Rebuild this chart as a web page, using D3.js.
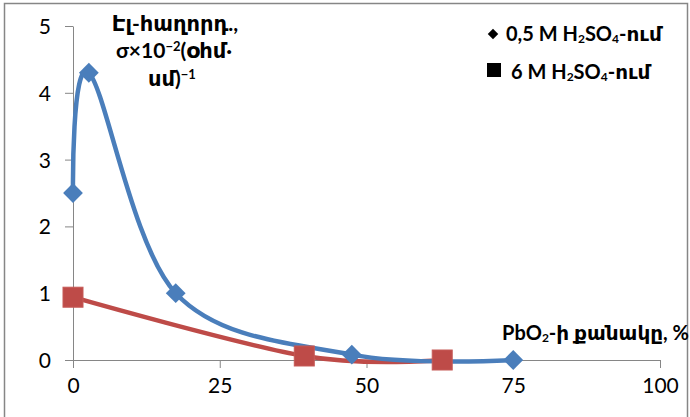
<!DOCTYPE html>
<html>
<head>
<meta charset="utf-8">
<script src="https://cdn.jsdelivr.net/npm/d3@7"></script>
<style>
  body { margin: 0; background: #fff; }
  svg { display: block; font-family: Lato, "DejaVu Sans", sans-serif; }
</style>
</head>
<body>
<div id="chart"></div>
<script>
// series: PbO2 share (%) vs conductivity
var blueX = [0, 2.7, 17.5, 47.5, 75];
var blueY = [2.5, 4.3, 1.0, 0.08, 0];
var redX = [0, 39.4, 62.9];
var redY = [0.94, 0.06, 0];
var xTicks = [0, 25, 50, 75, 100];
var yTicks = [0, 1, 2, 3, 4, 5];
var legendLabels = ["0,5 M H|2|SO|4|-ում", "6 M H|2|SO|4|-ում"];

var width = 690, height = 417;
var blue = "#4a7ebb", red = "#be4b48", grey = "#868686";

var svg = d3.select("#chart").append("svg")
  .attr("width", width)
  .attr("height", height);

// outer chart border
svg.append("rect")
  .attr("x", 4.5).attr("y", 3.5)
  .attr("width", 683).attr("height", 420)
  .attr("fill", "none")
  .attr("stroke", grey)
  .attr("stroke-width", 1.5);

var x = d3.scaleLinear().domain([0, 100]).range([73, 660]);
var y = d3.scaleLinear().domain([0, 5]).range([360, 26]);

var xAxis = svg.append("g")
  .attr("transform", "translate(0,360)")
  .call(d3.axisBottom(x).tickValues(xTicks).tickFormat(d3.format("d")).tickSize(8).tickSizeOuter(0).tickPadding(10));
var yAxis = svg.append("g")
  .attr("transform", "translate(73,0)")
  .call(d3.axisLeft(y).tickValues(yTicks).tickFormat(d3.format("d")).tickSize(8).tickSizeOuter(0).tickPadding(14));

[xAxis, yAxis].forEach(function(a) {
  a.select(".domain").attr("stroke", grey);
  a.selectAll(".tick line").attr("stroke", grey);
  a.selectAll(".tick text")
    .attr("fill", "#000")
    .style("font-family", "Lato, 'DejaVu Sans', sans-serif")
    .style("font-size", "21px");
});
// extend x axis to the left to meet the y zero tick
svg.append("line").attr("x1", 65).attr("x2", 73).attr("y1", 360.5).attr("y2", 360.5).attr("stroke", grey);
yAxis.selectAll(".tick text").attr("dy", "0.36em");

var line = d3.line()
  .x(function(d) { return x(d[0]); })
  .y(function(d) { return y(d[1]); })
  .curve(d3.curveCardinal.tension(0));

var blueData = blueX.map(function(v, i) { return [v, blueY[i]]; });
var redData = redX.map(function(v, i) { return [v, redY[i]]; });

svg.append("path").datum(redData)
  .attr("d", line).attr("fill", "none")
  .attr("stroke", red).attr("stroke-width", 4.5);

svg.append("path").datum(blueData)
  .attr("d", line).attr("fill", "none")
  .attr("stroke", blue).attr("stroke-width", 4.5);

svg.selectAll(".bm").data(blueData).enter()
  .append("path")
  .attr("class", "bm")
  .attr("d", d3.symbol().type(d3.symbolDiamond2).size(250))
  .attr("transform", function(d) { return "translate(" + x(d[0]) + "," + y(d[1]) + ")"; })
  .attr("fill", blue);

svg.selectAll(".rm").data(redData).enter()
  .append("rect")
  .attr("class", "rm")
  .attr("x", function(d) { return x(d[0]) - 10; })
  .attr("y", function(d) { return y(d[1]) - 10; })
  .attr("width", 20).attr("height", 20)
  .attr("fill", red)
  .attr("stroke", "#c65a57");

// text with subscripts, '|' toggles subscript
function richText(sel, str, size) {
  var parts = str.split("|");
  parts.forEach(function(p, i) {
    var sub = i % 2 === 1;
    sel.append("tspan")
      .style("font-size", sub ? (size * 0.6) + "px" : size + "px")
      .attr("dy", sub ? 2 : (i > 0 ? -2 : 0))
      .text(p);
  });
}

// legend
var lg = svg.append("g").style("font-weight", "bold");
lg.append("path")
  .attr("d", d3.symbol().type(d3.symbolDiamond2).size(70))
  .attr("transform", "translate(493,34)")
  .attr("fill", "#000");
lg.append("rect").attr("x", 487).attr("y", 63).attr("width", 14).attr("height", 14).attr("fill", "#000");
richText(lg.append("text").attr("x", 506).attr("y", 41), legendLabels[0], 20);
richText(lg.append("text").attr("x", 511).attr("y", 79), legendLabels[1], 20);

// y axis title
var yt = svg.append("text")
  .attr("text-anchor", "middle")
  .style("font-weight", "bold")
  .style("font-size", "21px");
yt.append("tspan").attr("x", 175).attr("y", 31).text("Էլ-հաղորդ.,");
yt.append("tspan").attr("x", 174).attr("y", 58).text("σ×10");
yt.append("tspan").attr("dy", -7).style("font-size", "13px").text("−2");
yt.append("tspan").attr("dy", 7).text("(օհմ·");
yt.append("tspan").attr("x", 172).attr("y", 86).text("սմ)");
yt.append("tspan").attr("dy", -7).style("font-size", "13px").text("−1");

// x axis title
var xt = svg.append("text")
  .attr("x", 689).attr("y", 340)
  .attr("text-anchor", "end")
  .style("font-weight", "bold");
richText(xt, "PbO|2|-ի քանակը, %", 20);
</script>
</body>
</html>
